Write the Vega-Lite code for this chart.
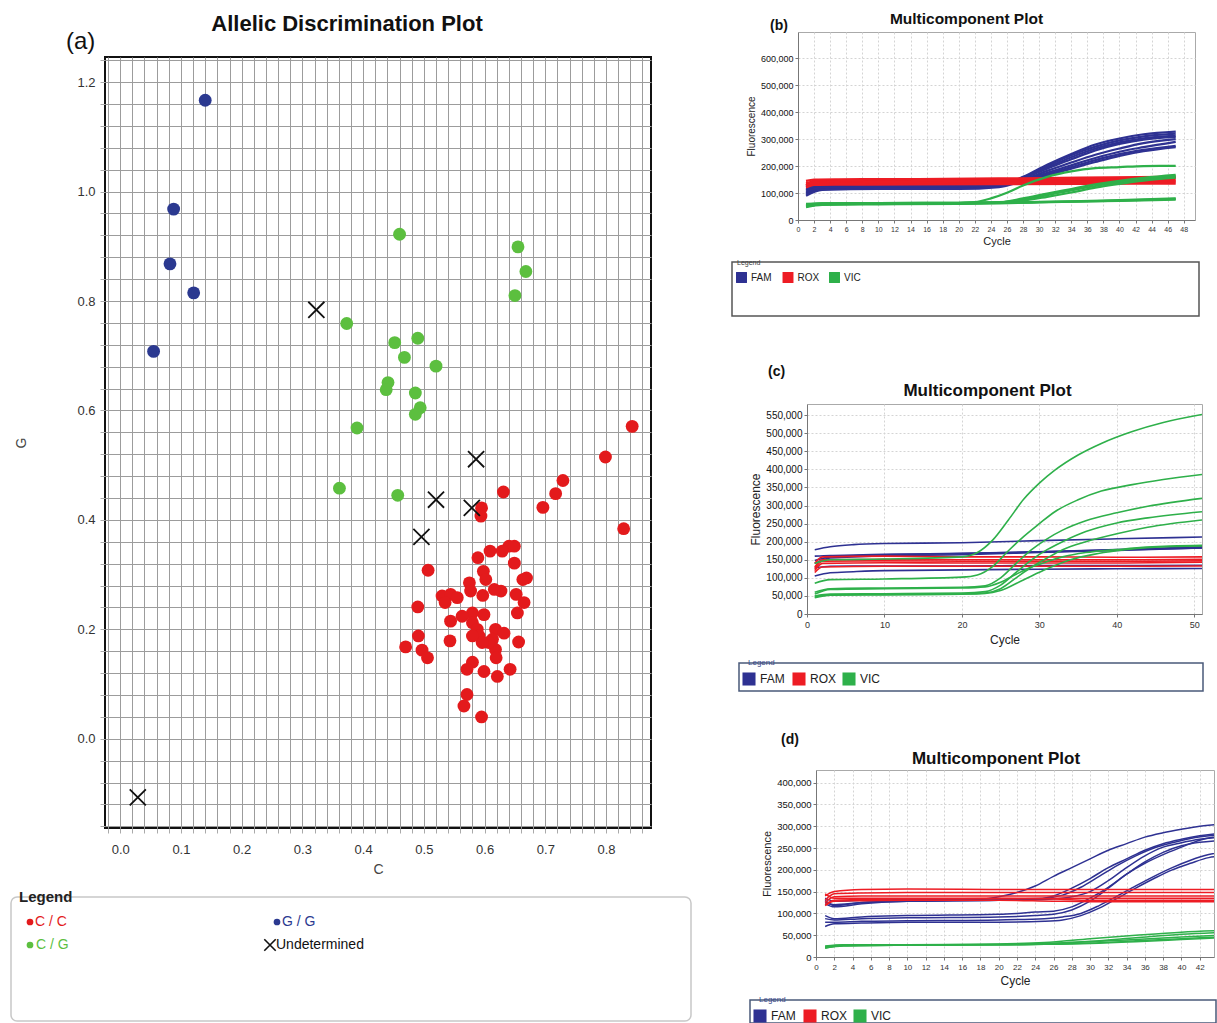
{
"$schema": "https://vega.github.io/schema/vega-lite/v6.json",
"background": "white",
"padding": {"left": 10, "top": 4, "right": 0, "bottom": 0},
"config": {"view": {"stroke": null}, "font": "Liberation Sans", "axis": {"labelFont": "Liberation Sans", "titleFont": "Liberation Sans"}},
"resolve": {"scale": {"color": "independent"}},
"datasets": {
"genotypes": [
{"C":0.140,"G":1.167,"call":"G / G"},{"C":0.088,"G":0.968,"call":"G / G"},{"C":0.082,"G":0.868,"call":"G / G"},{"C":0.121,"G":0.815,"call":"G / G"},{"C":0.055,"G":0.708,"call":"G / G"},
{"C":0.460,"G":0.922,"call":"C / G"},{"C":0.655,"G":0.899,"call":"C / G"},{"C":0.668,"G":0.854,"call":"C / G"},{"C":0.650,"G":0.810,"call":"C / G"},{"C":0.373,"G":0.759,"call":"C / G"},{"C":0.452,"G":0.724,"call":"C / G"},{"C":0.490,"G":0.732,"call":"C / G"},{"C":0.468,"G":0.697,"call":"C / G"},{"C":0.520,"G":0.681,"call":"C / G"},{"C":0.441,"G":0.651,"call":"C / G"},{"C":0.438,"G":0.638,"call":"C / G"},{"C":0.486,"G":0.632,"call":"C / G"},{"C":0.494,"G":0.605,"call":"C / G"},{"C":0.486,"G":0.593,"call":"C / G"},{"C":0.390,"G":0.568,"call":"C / G"},{"C":0.361,"G":0.458,"call":"C / G"},{"C":0.457,"G":0.445,"call":"C / G"},
{"C":0.843,"G":0.571,"call":"C / C"},{"C":0.799,"G":0.515,"call":"C / C"},{"C":0.729,"G":0.472,"call":"C / C"},{"C":0.717,"G":0.448,"call":"C / C"},{"C":0.696,"G":0.423,"call":"C / C"},{"C":0.829,"G":0.384,"call":"C / C"},{"C":0.631,"G":0.451,"call":"C / C"},{"C":0.595,"G":0.422,"call":"C / C"},{"C":0.594,"G":0.407,"call":"C / C"},{"C":0.507,"G":0.308,"call":"C / C"},
{"C":0.640,"G":0.352,"call":"C / C"},{"C":0.649,"G":0.352,"call":"C / C"},{"C":0.629,"G":0.343,"call":"C / C"},{"C":0.609,"G":0.343,"call":"C / C"},{"C":0.589,"G":0.331,"call":"C / C"},{"C":0.649,"G":0.321,"call":"C / C"},{"C":0.598,"G":0.306,"call":"C / C"},{"C":0.602,"G":0.291,"call":"C / C"},{"C":0.669,"G":0.294,"call":"C / C"},{"C":0.663,"G":0.291,"call":"C / C"},
{"C":0.575,"G":0.285,"call":"C / C"},{"C":0.577,"G":0.270,"call":"C / C"},{"C":0.530,"G":0.261,"call":"C / C"},{"C":0.544,"G":0.264,"call":"C / C"},{"C":0.555,"G":0.258,"call":"C / C"},{"C":0.535,"G":0.249,"call":"C / C"},{"C":0.627,"G":0.270,"call":"C / C"},{"C":0.616,"G":0.273,"call":"C / C"},{"C":0.597,"G":0.262,"call":"C / C"},{"C":0.652,"G":0.264,"call":"C / C"},
{"C":0.665,"G":0.249,"call":"C / C"},{"C":0.490,"G":0.241,"call":"C / C"},{"C":0.654,"G":0.230,"call":"C / C"},{"C":0.599,"G":0.227,"call":"C / C"},{"C":0.580,"G":0.230,"call":"C / C"},{"C":0.563,"G":0.224,"call":"C / C"},{"C":0.544,"G":0.215,"call":"C / C"},{"C":0.580,"G":0.212,"call":"C / C"},{"C":0.588,"G":0.200,"call":"C / C"},{"C":0.591,"G":0.188,"call":"C / C"},
{"C":0.618,"G":0.200,"call":"C / C"},{"C":0.632,"G":0.193,"call":"C / C"},{"C":0.613,"G":0.182,"call":"C / C"},{"C":0.491,"G":0.188,"call":"C / C"},{"C":0.543,"G":0.179,"call":"C / C"},{"C":0.656,"G":0.177,"call":"C / C"},{"C":0.470,"G":0.168,"call":"C / C"},{"C":0.497,"G":0.162,"call":"C / C"},{"C":0.506,"G":0.148,"call":"C / C"},{"C":0.618,"G":0.163,"call":"C / C"},
{"C":0.619,"G":0.148,"call":"C / C"},{"C":0.580,"G":0.140,"call":"C / C"},{"C":0.571,"G":0.127,"call":"C / C"},{"C":0.599,"G":0.123,"call":"C / C"},{"C":0.621,"G":0.114,"call":"C / C"},{"C":0.642,"G":0.127,"call":"C / C"},{"C":0.571,"G":0.081,"call":"C / C"},{"C":0.566,"G":0.060,"call":"C / C"},{"C":0.595,"G":0.040,"call":"C / C"},{"C":0.607,"G":0.176,"call":"C / C"},
{"C":0.596,"G":0.176,"call":"C / C"},{"C":0.580,"G":0.188,"call":"C / C"},
{"C":0.323,"G":0.784,"call":"Undetermined"},{"C":0.586,"G":0.511,"call":"Undetermined"},{"C":0.520,"G":0.437,"call":"Undetermined"},{"C":0.579,"G":0.422,"call":"Undetermined"},{"C":0.496,"G":0.369,"call":"Undetermined"},{"C":0.029,"G":-0.107,"call":"Undetermined"}
],
"b": [
{"dye":"FAM","well":"F1","cycle":1,"fluor":100000},{"dye":"FAM","well":"F1","cycle":3,"fluor":118000},{"dye":"FAM","well":"F1","cycle":10,"fluor":120000},{"dye":"FAM","well":"F1","cycle":20,"fluor":122000},{"dye":"FAM","well":"F1","cycle":25,"fluor":128000},{"dye":"FAM","well":"F1","cycle":28,"fluor":160000},{"dye":"FAM","well":"F1","cycle":31,"fluor":205000},{"dye":"FAM","well":"F1","cycle":34,"fluor":245000},{"dye":"FAM","well":"F1","cycle":37,"fluor":280000},{"dye":"FAM","well":"F1","cycle":40,"fluor":302000},{"dye":"FAM","well":"F1","cycle":43,"fluor":318000},{"dye":"FAM","well":"F1","cycle":47,"fluor":328000},
{"dye":"FAM","well":"F2","cycle":1,"fluor":110000},{"dye":"FAM","well":"F2","cycle":3,"fluor":125000},{"dye":"FAM","well":"F2","cycle":10,"fluor":125000},{"dye":"FAM","well":"F2","cycle":20,"fluor":125000},{"dye":"FAM","well":"F2","cycle":25,"fluor":130000},{"dye":"FAM","well":"F2","cycle":28,"fluor":158000},{"dye":"FAM","well":"F2","cycle":31,"fluor":200000},{"dye":"FAM","well":"F2","cycle":34,"fluor":240000},{"dye":"FAM","well":"F2","cycle":37,"fluor":272000},{"dye":"FAM","well":"F2","cycle":40,"fluor":295000},{"dye":"FAM","well":"F2","cycle":43,"fluor":310000},{"dye":"FAM","well":"F2","cycle":47,"fluor":320000},
{"dye":"FAM","well":"F3","cycle":1,"fluor":95000},{"dye":"FAM","well":"F3","cycle":3,"fluor":115000},{"dye":"FAM","well":"F3","cycle":10,"fluor":118000},{"dye":"FAM","well":"F3","cycle":20,"fluor":118000},{"dye":"FAM","well":"F3","cycle":25,"fluor":125000},{"dye":"FAM","well":"F3","cycle":28,"fluor":155000},{"dye":"FAM","well":"F3","cycle":31,"fluor":195000},{"dye":"FAM","well":"F3","cycle":34,"fluor":233000},{"dye":"FAM","well":"F3","cycle":37,"fluor":265000},{"dye":"FAM","well":"F3","cycle":40,"fluor":288000},{"dye":"FAM","well":"F3","cycle":43,"fluor":303000},{"dye":"FAM","well":"F3","cycle":47,"fluor":313000},
{"dye":"FAM","well":"F4","cycle":1,"fluor":120000},{"dye":"FAM","well":"F4","cycle":3,"fluor":130000},{"dye":"FAM","well":"F4","cycle":10,"fluor":128000},{"dye":"FAM","well":"F4","cycle":20,"fluor":127000},{"dye":"FAM","well":"F4","cycle":25,"fluor":132000},{"dye":"FAM","well":"F4","cycle":28,"fluor":155000},{"dye":"FAM","well":"F4","cycle":31,"fluor":190000},{"dye":"FAM","well":"F4","cycle":34,"fluor":225000},{"dye":"FAM","well":"F4","cycle":37,"fluor":258000},{"dye":"FAM","well":"F4","cycle":40,"fluor":282000},{"dye":"FAM","well":"F4","cycle":43,"fluor":298000},{"dye":"FAM","well":"F4","cycle":47,"fluor":308000},
{"dye":"FAM","well":"F5","cycle":1,"fluor":105000},{"dye":"FAM","well":"F5","cycle":3,"fluor":122000},{"dye":"FAM","well":"F5","cycle":10,"fluor":122000},{"dye":"FAM","well":"F5","cycle":20,"fluor":120000},{"dye":"FAM","well":"F5","cycle":25,"fluor":126000},{"dye":"FAM","well":"F5","cycle":28,"fluor":150000},{"dye":"FAM","well":"F5","cycle":31,"fluor":182000},{"dye":"FAM","well":"F5","cycle":34,"fluor":213000},{"dye":"FAM","well":"F5","cycle":37,"fluor":242000},{"dye":"FAM","well":"F5","cycle":40,"fluor":265000},{"dye":"FAM","well":"F5","cycle":43,"fluor":285000},{"dye":"FAM","well":"F5","cycle":47,"fluor":300000},
{"dye":"FAM","well":"F6","cycle":1,"fluor":125000},{"dye":"FAM","well":"F6","cycle":3,"fluor":135000},{"dye":"FAM","well":"F6","cycle":10,"fluor":133000},{"dye":"FAM","well":"F6","cycle":20,"fluor":130000},{"dye":"FAM","well":"F6","cycle":25,"fluor":133000},{"dye":"FAM","well":"F6","cycle":28,"fluor":148000},{"dye":"FAM","well":"F6","cycle":31,"fluor":175000},{"dye":"FAM","well":"F6","cycle":34,"fluor":203000},{"dye":"FAM","well":"F6","cycle":37,"fluor":230000},{"dye":"FAM","well":"F6","cycle":40,"fluor":253000},{"dye":"FAM","well":"F6","cycle":43,"fluor":270000},{"dye":"FAM","well":"F6","cycle":47,"fluor":290000},
{"dye":"FAM","well":"F7","cycle":1,"fluor":90000},{"dye":"FAM","well":"F7","cycle":3,"fluor":112000},{"dye":"FAM","well":"F7","cycle":10,"fluor":115000},{"dye":"FAM","well":"F7","cycle":20,"fluor":115000},{"dye":"FAM","well":"F7","cycle":25,"fluor":122000},{"dye":"FAM","well":"F7","cycle":28,"fluor":145000},{"dye":"FAM","well":"F7","cycle":31,"fluor":170000},{"dye":"FAM","well":"F7","cycle":34,"fluor":196000},{"dye":"FAM","well":"F7","cycle":37,"fluor":222000},{"dye":"FAM","well":"F7","cycle":40,"fluor":244000},{"dye":"FAM","well":"F7","cycle":43,"fluor":260000},{"dye":"FAM","well":"F7","cycle":47,"fluor":275000},
{"dye":"FAM","well":"F8","cycle":1,"fluor":115000},{"dye":"FAM","well":"F8","cycle":3,"fluor":128000},{"dye":"FAM","well":"F8","cycle":10,"fluor":126000},{"dye":"FAM","well":"F8","cycle":20,"fluor":124000},{"dye":"FAM","well":"F8","cycle":25,"fluor":128000},{"dye":"FAM","well":"F8","cycle":28,"fluor":142000},{"dye":"FAM","well":"F8","cycle":31,"fluor":165000},{"dye":"FAM","well":"F8","cycle":34,"fluor":190000},{"dye":"FAM","well":"F8","cycle":37,"fluor":215000},{"dye":"FAM","well":"F8","cycle":40,"fluor":238000},{"dye":"FAM","well":"F8","cycle":43,"fluor":255000},{"dye":"FAM","well":"F8","cycle":47,"fluor":270000},
{"dye":"ROX","well":"R1","cycle":1,"fluor":128000},{"dye":"ROX","well":"R1","cycle":2,"fluor":145000},{"dye":"ROX","well":"R1","cycle":5,"fluor":147000},{"dye":"ROX","well":"R1","cycle":15,"fluor":148000},{"dye":"ROX","well":"R1","cycle":25,"fluor":150000},{"dye":"ROX","well":"R1","cycle":35,"fluor":152000},{"dye":"ROX","well":"R1","cycle":47,"fluor":156000},
{"dye":"ROX","well":"R2","cycle":1,"fluor":135000},{"dye":"ROX","well":"R2","cycle":2,"fluor":142000},{"dye":"ROX","well":"R2","cycle":5,"fluor":143000},{"dye":"ROX","well":"R2","cycle":15,"fluor":144000},{"dye":"ROX","well":"R2","cycle":25,"fluor":146000},{"dye":"ROX","well":"R2","cycle":35,"fluor":148000},{"dye":"ROX","well":"R2","cycle":47,"fluor":150000},
{"dye":"ROX","well":"R3","cycle":1,"fluor":140000},{"dye":"ROX","well":"R3","cycle":2,"fluor":138000},{"dye":"ROX","well":"R3","cycle":5,"fluor":139000},{"dye":"ROX","well":"R3","cycle":15,"fluor":140000},{"dye":"ROX","well":"R3","cycle":25,"fluor":141000},{"dye":"ROX","well":"R3","cycle":35,"fluor":143000},{"dye":"ROX","well":"R3","cycle":47,"fluor":145000},
{"dye":"ROX","well":"R4","cycle":1,"fluor":130000},{"dye":"ROX","well":"R4","cycle":2,"fluor":134000},{"dye":"ROX","well":"R4","cycle":5,"fluor":135000},{"dye":"ROX","well":"R4","cycle":15,"fluor":136000},{"dye":"ROX","well":"R4","cycle":25,"fluor":137000},{"dye":"ROX","well":"R4","cycle":35,"fluor":139000},{"dye":"ROX","well":"R4","cycle":47,"fluor":140000},
{"dye":"ROX","well":"R5","cycle":1,"fluor":120000},{"dye":"ROX","well":"R5","cycle":2,"fluor":130000},{"dye":"ROX","well":"R5","cycle":5,"fluor":131000},{"dye":"ROX","well":"R5","cycle":15,"fluor":132000},{"dye":"ROX","well":"R5","cycle":25,"fluor":133000},{"dye":"ROX","well":"R5","cycle":35,"fluor":134000},{"dye":"ROX","well":"R5","cycle":47,"fluor":135000},
{"dye":"ROX","well":"R6","cycle":1,"fluor":145000},{"dye":"ROX","well":"R6","cycle":2,"fluor":150000},{"dye":"ROX","well":"R6","cycle":5,"fluor":151000},{"dye":"ROX","well":"R6","cycle":15,"fluor":152000},{"dye":"ROX","well":"R6","cycle":25,"fluor":154000},{"dye":"ROX","well":"R6","cycle":35,"fluor":157000},{"dye":"ROX","well":"R6","cycle":47,"fluor":160000},
{"dye":"VIC","well":"V1","cycle":1,"fluor":50000},{"dye":"VIC","well":"V1","cycle":3,"fluor":58000},{"dye":"VIC","well":"V1","cycle":10,"fluor":60000},{"dye":"VIC","well":"V1","cycle":20,"fluor":63000},{"dye":"VIC","well":"V1","cycle":22,"fluor":66000},{"dye":"VIC","well":"V1","cycle":24,"fluor":80000},{"dye":"VIC","well":"V1","cycle":26,"fluor":101000},{"dye":"VIC","well":"V1","cycle":28,"fluor":128000},{"dye":"VIC","well":"V1","cycle":31,"fluor":160000},{"dye":"VIC","well":"V1","cycle":34,"fluor":180000},{"dye":"VIC","well":"V1","cycle":37,"fluor":192000},{"dye":"VIC","well":"V1","cycle":40,"fluor":196000},{"dye":"VIC","well":"V1","cycle":43,"fluor":200000},{"dye":"VIC","well":"V1","cycle":47,"fluor":201000},
{"dye":"VIC","well":"V2","cycle":1,"fluor":55000},{"dye":"VIC","well":"V2","cycle":3,"fluor":60000},{"dye":"VIC","well":"V2","cycle":10,"fluor":60000},{"dye":"VIC","well":"V2","cycle":20,"fluor":62000},{"dye":"VIC","well":"V2","cycle":25,"fluor":65000},{"dye":"VIC","well":"V2","cycle":28,"fluor":80000},{"dye":"VIC","well":"V2","cycle":31,"fluor":98000},{"dye":"VIC","well":"V2","cycle":34,"fluor":115000},{"dye":"VIC","well":"V2","cycle":37,"fluor":132000},{"dye":"VIC","well":"V2","cycle":40,"fluor":145000},{"dye":"VIC","well":"V2","cycle":43,"fluor":156000},{"dye":"VIC","well":"V2","cycle":47,"fluor":167000},
{"dye":"VIC","well":"V3","cycle":1,"fluor":52000},{"dye":"VIC","well":"V3","cycle":3,"fluor":58000},{"dye":"VIC","well":"V3","cycle":10,"fluor":60000},{"dye":"VIC","well":"V3","cycle":20,"fluor":61000},{"dye":"VIC","well":"V3","cycle":25,"fluor":64000},{"dye":"VIC","well":"V3","cycle":28,"fluor":76000},{"dye":"VIC","well":"V3","cycle":31,"fluor":92000},{"dye":"VIC","well":"V3","cycle":34,"fluor":110000},{"dye":"VIC","well":"V3","cycle":37,"fluor":126000},{"dye":"VIC","well":"V3","cycle":40,"fluor":140000},{"dye":"VIC","well":"V3","cycle":43,"fluor":152000},{"dye":"VIC","well":"V3","cycle":47,"fluor":162000},
{"dye":"VIC","well":"V4","cycle":1,"fluor":60000},{"dye":"VIC","well":"V4","cycle":3,"fluor":62000},{"dye":"VIC","well":"V4","cycle":10,"fluor":63000},{"dye":"VIC","well":"V4","cycle":20,"fluor":64000},{"dye":"VIC","well":"V4","cycle":25,"fluor":66000},{"dye":"VIC","well":"V4","cycle":28,"fluor":72000},{"dye":"VIC","well":"V4","cycle":31,"fluor":86000},{"dye":"VIC","well":"V4","cycle":34,"fluor":102000},{"dye":"VIC","well":"V4","cycle":37,"fluor":120000},{"dye":"VIC","well":"V4","cycle":40,"fluor":134000},{"dye":"VIC","well":"V4","cycle":43,"fluor":146000},{"dye":"VIC","well":"V4","cycle":47,"fluor":157000},
{"dye":"VIC","well":"V5","cycle":1,"fluor":48000},{"dye":"VIC","well":"V5","cycle":3,"fluor":56000},{"dye":"VIC","well":"V5","cycle":10,"fluor":58000},{"dye":"VIC","well":"V5","cycle":20,"fluor":60000},{"dye":"VIC","well":"V5","cycle":25,"fluor":62000},{"dye":"VIC","well":"V5","cycle":30,"fluor":65000},{"dye":"VIC","well":"V5","cycle":40,"fluor":72000},{"dye":"VIC","well":"V5","cycle":47,"fluor":78000},
{"dye":"VIC","well":"V6","cycle":1,"fluor":55000},{"dye":"VIC","well":"V6","cycle":3,"fluor":60000},{"dye":"VIC","well":"V6","cycle":10,"fluor":61000},{"dye":"VIC","well":"V6","cycle":20,"fluor":62000},{"dye":"VIC","well":"V6","cycle":25,"fluor":63000},{"dye":"VIC","well":"V6","cycle":30,"fluor":66000},{"dye":"VIC","well":"V6","cycle":40,"fluor":74000},{"dye":"VIC","well":"V6","cycle":47,"fluor":80000},
{"dye":"VIC","well":"V7","cycle":1,"fluor":58000},{"dye":"VIC","well":"V7","cycle":3,"fluor":62000},{"dye":"VIC","well":"V7","cycle":10,"fluor":63000},{"dye":"VIC","well":"V7","cycle":20,"fluor":64000},{"dye":"VIC","well":"V7","cycle":25,"fluor":65000},{"dye":"VIC","well":"V7","cycle":30,"fluor":67000},{"dye":"VIC","well":"V7","cycle":40,"fluor":71000},{"dye":"VIC","well":"V7","cycle":47,"fluor":75000}
],
"c": [
{"dye":"FAM","well":"F1","cycle":1,"fluor":178000},{"dye":"FAM","well":"F1","cycle":3,"fluor":186000},{"dye":"FAM","well":"F1","cycle":6,"fluor":192000},{"dye":"FAM","well":"F1","cycle":10,"fluor":195000},{"dye":"FAM","well":"F1","cycle":20,"fluor":197000},{"dye":"FAM","well":"F1","cycle":30,"fluor":203000},{"dye":"FAM","well":"F1","cycle":40,"fluor":208000},{"dye":"FAM","well":"F1","cycle":51,"fluor":213000},
{"dye":"FAM","well":"F2","cycle":1,"fluor":148000},{"dye":"FAM","well":"F2","cycle":3,"fluor":158000},{"dye":"FAM","well":"F2","cycle":6,"fluor":161000},{"dye":"FAM","well":"F2","cycle":10,"fluor":164000},{"dye":"FAM","well":"F2","cycle":20,"fluor":167000},{"dye":"FAM","well":"F2","cycle":30,"fluor":172000},{"dye":"FAM","well":"F2","cycle":40,"fluor":178000},{"dye":"FAM","well":"F2","cycle":51,"fluor":186000},
{"dye":"FAM","well":"F3","cycle":1,"fluor":140000},{"dye":"FAM","well":"F3","cycle":3,"fluor":155000},{"dye":"FAM","well":"F3","cycle":6,"fluor":158000},{"dye":"FAM","well":"F3","cycle":10,"fluor":161000},{"dye":"FAM","well":"F3","cycle":20,"fluor":164000},{"dye":"FAM","well":"F3","cycle":30,"fluor":170000},{"dye":"FAM","well":"F3","cycle":40,"fluor":176000},{"dye":"FAM","well":"F3","cycle":51,"fluor":183000},
{"dye":"FAM","well":"F4","cycle":1,"fluor":105000},{"dye":"FAM","well":"F4","cycle":3,"fluor":114000},{"dye":"FAM","well":"F4","cycle":6,"fluor":117000},{"dye":"FAM","well":"F4","cycle":10,"fluor":120000},{"dye":"FAM","well":"F4","cycle":20,"fluor":122000},{"dye":"FAM","well":"F4","cycle":30,"fluor":124000},{"dye":"FAM","well":"F4","cycle":40,"fluor":125000},{"dye":"FAM","well":"F4","cycle":51,"fluor":126000},
{"dye":"FAM","well":"F5","cycle":1,"fluor":128000},{"dye":"FAM","well":"F5","cycle":3,"fluor":132000},{"dye":"FAM","well":"F5","cycle":6,"fluor":133000},{"dye":"FAM","well":"F5","cycle":10,"fluor":133000},{"dye":"FAM","well":"F5","cycle":20,"fluor":133000},{"dye":"FAM","well":"F5","cycle":30,"fluor":134000},{"dye":"FAM","well":"F5","cycle":40,"fluor":134000},{"dye":"FAM","well":"F5","cycle":51,"fluor":135000},
{"dye":"FAM","well":"F6","cycle":1,"fluor":160000},{"dye":"FAM","well":"F6","cycle":3,"fluor":162000},{"dye":"FAM","well":"F6","cycle":6,"fluor":163000},{"dye":"FAM","well":"F6","cycle":10,"fluor":165000},{"dye":"FAM","well":"F6","cycle":20,"fluor":168000},{"dye":"FAM","well":"F6","cycle":30,"fluor":172000},{"dye":"FAM","well":"F6","cycle":40,"fluor":177000},{"dye":"FAM","well":"F6","cycle":51,"fluor":183000},
{"dye":"ROX","well":"R1","cycle":1,"fluor":140000},{"dye":"ROX","well":"R1","cycle":2,"fluor":158000},{"dye":"ROX","well":"R1","cycle":10,"fluor":160000},{"dye":"ROX","well":"R1","cycle":20,"fluor":158000},{"dye":"ROX","well":"R1","cycle":30,"fluor":158000},{"dye":"ROX","well":"R1","cycle":40,"fluor":157000},{"dye":"ROX","well":"R1","cycle":51,"fluor":158000},
{"dye":"ROX","well":"R2","cycle":1,"fluor":130000},{"dye":"ROX","well":"R2","cycle":2,"fluor":150000},{"dye":"ROX","well":"R2","cycle":10,"fluor":151000},{"dye":"ROX","well":"R2","cycle":20,"fluor":150000},{"dye":"ROX","well":"R2","cycle":30,"fluor":150000},{"dye":"ROX","well":"R2","cycle":40,"fluor":150000},{"dye":"ROX","well":"R2","cycle":51,"fluor":151000},
{"dye":"ROX","well":"R3","cycle":1,"fluor":120000},{"dye":"ROX","well":"R3","cycle":2,"fluor":140000},{"dye":"ROX","well":"R3","cycle":10,"fluor":142000},{"dye":"ROX","well":"R3","cycle":20,"fluor":141000},{"dye":"ROX","well":"R3","cycle":30,"fluor":141000},{"dye":"ROX","well":"R3","cycle":40,"fluor":141000},{"dye":"ROX","well":"R3","cycle":51,"fluor":143000},
{"dye":"ROX","well":"R4","cycle":1,"fluor":115000},{"dye":"ROX","well":"R4","cycle":2,"fluor":130000},{"dye":"ROX","well":"R4","cycle":10,"fluor":132000},{"dye":"ROX","well":"R4","cycle":20,"fluor":132000},{"dye":"ROX","well":"R4","cycle":30,"fluor":132000},{"dye":"ROX","well":"R4","cycle":40,"fluor":132000},{"dye":"ROX","well":"R4","cycle":51,"fluor":133000},
{"dye":"ROX","well":"R5","cycle":1,"fluor":125000},{"dye":"ROX","well":"R5","cycle":2,"fluor":146000},{"dye":"ROX","well":"R5","cycle":10,"fluor":147000},{"dye":"ROX","well":"R5","cycle":20,"fluor":146000},{"dye":"ROX","well":"R5","cycle":30,"fluor":146000},{"dye":"ROX","well":"R5","cycle":40,"fluor":146000},{"dye":"ROX","well":"R5","cycle":51,"fluor":147000},
{"dye":"VIC","well":"V1","cycle":1,"fluor":140000},{"dye":"VIC","well":"V1","cycle":3,"fluor":150000},{"dye":"VIC","well":"V1","cycle":10,"fluor":152000},{"dye":"VIC","well":"V1","cycle":20,"fluor":158000},{"dye":"VIC","well":"V1","cycle":22,"fluor":170000},{"dye":"VIC","well":"V1","cycle":24,"fluor":205000},{"dye":"VIC","well":"V1","cycle":26,"fluor":260000},{"dye":"VIC","well":"V1","cycle":28,"fluor":318000},{"dye":"VIC","well":"V1","cycle":30,"fluor":362000},{"dye":"VIC","well":"V1","cycle":32,"fluor":398000},{"dye":"VIC","well":"V1","cycle":35,"fluor":440000},{"dye":"VIC","well":"V1","cycle":38,"fluor":472000},{"dye":"VIC","well":"V1","cycle":42,"fluor":505000},{"dye":"VIC","well":"V1","cycle":46,"fluor":530000},{"dye":"VIC","well":"V1","cycle":51,"fluor":552000},
{"dye":"VIC","well":"V2","cycle":1,"fluor":85000},{"dye":"VIC","well":"V2","cycle":3,"fluor":95000},{"dye":"VIC","well":"V2","cycle":10,"fluor":97000},{"dye":"VIC","well":"V2","cycle":20,"fluor":102000},{"dye":"VIC","well":"V2","cycle":22,"fluor":108000},{"dye":"VIC","well":"V2","cycle":24,"fluor":132000},{"dye":"VIC","well":"V2","cycle":26,"fluor":175000},{"dye":"VIC","well":"V2","cycle":28,"fluor":215000},{"dye":"VIC","well":"V2","cycle":30,"fluor":250000},{"dye":"VIC","well":"V2","cycle":32,"fluor":283000},{"dye":"VIC","well":"V2","cycle":35,"fluor":316000},{"dye":"VIC","well":"V2","cycle":38,"fluor":340000},{"dye":"VIC","well":"V2","cycle":42,"fluor":358000},{"dye":"VIC","well":"V2","cycle":46,"fluor":372000},{"dye":"VIC","well":"V2","cycle":51,"fluor":386000},
{"dye":"VIC","well":"V3","cycle":1,"fluor":60000},{"dye":"VIC","well":"V3","cycle":3,"fluor":70000},{"dye":"VIC","well":"V3","cycle":10,"fluor":72000},{"dye":"VIC","well":"V3","cycle":20,"fluor":74000},{"dye":"VIC","well":"V3","cycle":23,"fluor":78000},{"dye":"VIC","well":"V3","cycle":25,"fluor":100000},{"dye":"VIC","well":"V3","cycle":27,"fluor":140000},{"dye":"VIC","well":"V3","cycle":29,"fluor":178000},{"dye":"VIC","well":"V3","cycle":31,"fluor":208000},{"dye":"VIC","well":"V3","cycle":33,"fluor":232000},{"dye":"VIC","well":"V3","cycle":36,"fluor":258000},{"dye":"VIC","well":"V3","cycle":40,"fluor":280000},{"dye":"VIC","well":"V3","cycle":44,"fluor":298000},{"dye":"VIC","well":"V3","cycle":51,"fluor":320000},
{"dye":"VIC","well":"V4","cycle":1,"fluor":50000},{"dye":"VIC","well":"V4","cycle":3,"fluor":55000},{"dye":"VIC","well":"V4","cycle":10,"fluor":56000},{"dye":"VIC","well":"V4","cycle":20,"fluor":58000},{"dye":"VIC","well":"V4","cycle":23,"fluor":62000},{"dye":"VIC","well":"V4","cycle":25,"fluor":80000},{"dye":"VIC","well":"V4","cycle":27,"fluor":115000},{"dye":"VIC","well":"V4","cycle":29,"fluor":150000},{"dye":"VIC","well":"V4","cycle":31,"fluor":178000},{"dye":"VIC","well":"V4","cycle":33,"fluor":200000},{"dye":"VIC","well":"V4","cycle":36,"fluor":228000},{"dye":"VIC","well":"V4","cycle":40,"fluor":252000},{"dye":"VIC","well":"V4","cycle":44,"fluor":266000},{"dye":"VIC","well":"V4","cycle":51,"fluor":283000},
{"dye":"VIC","well":"V5","cycle":1,"fluor":48000},{"dye":"VIC","well":"V5","cycle":3,"fluor":53000},{"dye":"VIC","well":"V5","cycle":10,"fluor":54000},{"dye":"VIC","well":"V5","cycle":20,"fluor":55000},{"dye":"VIC","well":"V5","cycle":23,"fluor":58000},{"dye":"VIC","well":"V5","cycle":25,"fluor":70000},{"dye":"VIC","well":"V5","cycle":27,"fluor":100000},{"dye":"VIC","well":"V5","cycle":29,"fluor":130000},{"dye":"VIC","well":"V5","cycle":31,"fluor":155000},{"dye":"VIC","well":"V5","cycle":33,"fluor":178000},{"dye":"VIC","well":"V5","cycle":36,"fluor":200000},{"dye":"VIC","well":"V5","cycle":40,"fluor":222000},{"dye":"VIC","well":"V5","cycle":44,"fluor":240000},{"dye":"VIC","well":"V5","cycle":51,"fluor":260000},
{"dye":"VIC","well":"V6","cycle":1,"fluor":55000},{"dye":"VIC","well":"V6","cycle":3,"fluor":68000},{"dye":"VIC","well":"V6","cycle":10,"fluor":70000},{"dye":"VIC","well":"V6","cycle":20,"fluor":72000},{"dye":"VIC","well":"V6","cycle":23,"fluor":75000},{"dye":"VIC","well":"V6","cycle":25,"fluor":88000},{"dye":"VIC","well":"V6","cycle":27,"fluor":110000},{"dye":"VIC","well":"V6","cycle":29,"fluor":130000},{"dye":"VIC","well":"V6","cycle":31,"fluor":145000},{"dye":"VIC","well":"V6","cycle":33,"fluor":158000},{"dye":"VIC","well":"V6","cycle":36,"fluor":170000},{"dye":"VIC","well":"V6","cycle":40,"fluor":178000},{"dye":"VIC","well":"V6","cycle":44,"fluor":185000},{"dye":"VIC","well":"V6","cycle":51,"fluor":190000},
{"dye":"VIC","well":"V7","cycle":1,"fluor":45000},{"dye":"VIC","well":"V7","cycle":3,"fluor":52000},{"dye":"VIC","well":"V7","cycle":10,"fluor":53000},{"dye":"VIC","well":"V7","cycle":20,"fluor":55000},{"dye":"VIC","well":"V7","cycle":23,"fluor":57000},{"dye":"VIC","well":"V7","cycle":25,"fluor":65000},{"dye":"VIC","well":"V7","cycle":28,"fluor":95000},{"dye":"VIC","well":"V7","cycle":31,"fluor":125000},{"dye":"VIC","well":"V7","cycle":34,"fluor":150000},{"dye":"VIC","well":"V7","cycle":37,"fluor":165000},{"dye":"VIC","well":"V7","cycle":40,"fluor":175000},{"dye":"VIC","well":"V7","cycle":45,"fluor":185000},{"dye":"VIC","well":"V7","cycle":51,"fluor":188000}
],
"d": [
{"dye":"FAM","well":"F1","cycle":1,"fluor":125000},{"dye":"FAM","well":"F1","cycle":2,"fluor":120000},{"dye":"FAM","well":"F1","cycle":5,"fluor":125000},{"dye":"FAM","well":"F1","cycle":10,"fluor":128000},{"dye":"FAM","well":"F1","cycle":15,"fluor":130000},{"dye":"FAM","well":"F1","cycle":18,"fluor":132000},{"dye":"FAM","well":"F1","cycle":20,"fluor":138000},{"dye":"FAM","well":"F1","cycle":22,"fluor":148000},{"dye":"FAM","well":"F1","cycle":24,"fluor":163000},{"dye":"FAM","well":"F1","cycle":26,"fluor":185000},{"dye":"FAM","well":"F1","cycle":28,"fluor":205000},{"dye":"FAM","well":"F1","cycle":30,"fluor":225000},{"dye":"FAM","well":"F1","cycle":32,"fluor":245000},{"dye":"FAM","well":"F1","cycle":34,"fluor":260000},{"dye":"FAM","well":"F1","cycle":36,"fluor":275000},{"dye":"FAM","well":"F1","cycle":38,"fluor":285000},{"dye":"FAM","well":"F1","cycle":40,"fluor":293000},{"dye":"FAM","well":"F1","cycle":42,"fluor":300000},{"dye":"FAM","well":"F1","cycle":45,"fluor":305000},
{"dye":"FAM","well":"F2","cycle":1,"fluor":130000},{"dye":"FAM","well":"F2","cycle":2,"fluor":118000},{"dye":"FAM","well":"F2","cycle":5,"fluor":125000},{"dye":"FAM","well":"F2","cycle":10,"fluor":128000},{"dye":"FAM","well":"F2","cycle":20,"fluor":130000},{"dye":"FAM","well":"F2","cycle":24,"fluor":132000},{"dye":"FAM","well":"F2","cycle":26,"fluor":140000},{"dye":"FAM","well":"F2","cycle":28,"fluor":158000},{"dye":"FAM","well":"F2","cycle":30,"fluor":180000},{"dye":"FAM","well":"F2","cycle":32,"fluor":205000},{"dye":"FAM","well":"F2","cycle":34,"fluor":225000},{"dye":"FAM","well":"F2","cycle":36,"fluor":245000},{"dye":"FAM","well":"F2","cycle":38,"fluor":260000},{"dye":"FAM","well":"F2","cycle":40,"fluor":270000},{"dye":"FAM","well":"F2","cycle":42,"fluor":278000},{"dye":"FAM","well":"F2","cycle":45,"fluor":285000},
{"dye":"FAM","well":"F3","cycle":1,"fluor":135000},{"dye":"FAM","well":"F3","cycle":2,"fluor":128000},{"dye":"FAM","well":"F3","cycle":5,"fluor":130000},{"dye":"FAM","well":"F3","cycle":10,"fluor":132000},{"dye":"FAM","well":"F3","cycle":20,"fluor":133000},{"dye":"FAM","well":"F3","cycle":25,"fluor":135000},{"dye":"FAM","well":"F3","cycle":27,"fluor":142000},{"dye":"FAM","well":"F3","cycle":29,"fluor":160000},{"dye":"FAM","well":"F3","cycle":31,"fluor":185000},{"dye":"FAM","well":"F3","cycle":33,"fluor":210000},{"dye":"FAM","well":"F3","cycle":35,"fluor":232000},{"dye":"FAM","well":"F3","cycle":37,"fluor":250000},{"dye":"FAM","well":"F3","cycle":39,"fluor":262000},{"dye":"FAM","well":"F3","cycle":41,"fluor":272000},{"dye":"FAM","well":"F3","cycle":45,"fluor":282000},
{"dye":"FAM","well":"F4","cycle":1,"fluor":122000},{"dye":"FAM","well":"F4","cycle":2,"fluor":115000},{"dye":"FAM","well":"F4","cycle":5,"fluor":122000},{"dye":"FAM","well":"F4","cycle":10,"fluor":128000},{"dye":"FAM","well":"F4","cycle":20,"fluor":130000},{"dye":"FAM","well":"F4","cycle":25,"fluor":132000},{"dye":"FAM","well":"F4","cycle":28,"fluor":138000},{"dye":"FAM","well":"F4","cycle":30,"fluor":150000},{"dye":"FAM","well":"F4","cycle":32,"fluor":175000},{"dye":"FAM","well":"F4","cycle":34,"fluor":205000},{"dye":"FAM","well":"F4","cycle":36,"fluor":232000},{"dye":"FAM","well":"F4","cycle":38,"fluor":252000},{"dye":"FAM","well":"F4","cycle":40,"fluor":262000},{"dye":"FAM","well":"F4","cycle":42,"fluor":270000},{"dye":"FAM","well":"F4","cycle":45,"fluor":276000},
{"dye":"FAM","well":"F5","cycle":1,"fluor":95000},{"dye":"FAM","well":"F5","cycle":2,"fluor":88000},{"dye":"FAM","well":"F5","cycle":5,"fluor":92000},{"dye":"FAM","well":"F5","cycle":10,"fluor":95000},{"dye":"FAM","well":"F5","cycle":20,"fluor":98000},{"dye":"FAM","well":"F5","cycle":22,"fluor":100000},{"dye":"FAM","well":"F5","cycle":24,"fluor":103000},{"dye":"FAM","well":"F5","cycle":26,"fluor":105000},{"dye":"FAM","well":"F5","cycle":28,"fluor":115000},{"dye":"FAM","well":"F5","cycle":30,"fluor":135000},{"dye":"FAM","well":"F5","cycle":32,"fluor":160000},{"dye":"FAM","well":"F5","cycle":34,"fluor":190000},{"dye":"FAM","well":"F5","cycle":36,"fluor":218000},{"dye":"FAM","well":"F5","cycle":38,"fluor":240000},{"dye":"FAM","well":"F5","cycle":40,"fluor":255000},{"dye":"FAM","well":"F5","cycle":42,"fluor":263000},{"dye":"FAM","well":"F5","cycle":45,"fluor":268000},
{"dye":"FAM","well":"F6","cycle":1,"fluor":88000},{"dye":"FAM","well":"F6","cycle":2,"fluor":85000},{"dye":"FAM","well":"F6","cycle":5,"fluor":88000},{"dye":"FAM","well":"F6","cycle":10,"fluor":90000},{"dye":"FAM","well":"F6","cycle":20,"fluor":92000},{"dye":"FAM","well":"F6","cycle":24,"fluor":95000},{"dye":"FAM","well":"F6","cycle":26,"fluor":98000},{"dye":"FAM","well":"F6","cycle":28,"fluor":108000},{"dye":"FAM","well":"F6","cycle":30,"fluor":128000},{"dye":"FAM","well":"F6","cycle":32,"fluor":158000},{"dye":"FAM","well":"F6","cycle":34,"fluor":190000},{"dye":"FAM","well":"F6","cycle":36,"fluor":215000},{"dye":"FAM","well":"F6","cycle":38,"fluor":235000},{"dye":"FAM","well":"F6","cycle":40,"fluor":252000},{"dye":"FAM","well":"F6","cycle":42,"fluor":268000},{"dye":"FAM","well":"F6","cycle":45,"fluor":280000},
{"dye":"FAM","well":"F7","cycle":1,"fluor":80000},{"dye":"FAM","well":"F7","cycle":2,"fluor":80000},{"dye":"FAM","well":"F7","cycle":5,"fluor":82000},{"dye":"FAM","well":"F7","cycle":10,"fluor":83000},{"dye":"FAM","well":"F7","cycle":20,"fluor":85000},{"dye":"FAM","well":"F7","cycle":25,"fluor":88000},{"dye":"FAM","well":"F7","cycle":27,"fluor":92000},{"dye":"FAM","well":"F7","cycle":29,"fluor":100000},{"dye":"FAM","well":"F7","cycle":31,"fluor":118000},{"dye":"FAM","well":"F7","cycle":33,"fluor":140000},{"dye":"FAM","well":"F7","cycle":35,"fluor":163000},{"dye":"FAM","well":"F7","cycle":37,"fluor":185000},{"dye":"FAM","well":"F7","cycle":39,"fluor":205000},{"dye":"FAM","well":"F7","cycle":41,"fluor":222000},{"dye":"FAM","well":"F7","cycle":43,"fluor":235000},{"dye":"FAM","well":"F7","cycle":45,"fluor":242000},
{"dye":"FAM","well":"F8","cycle":1,"fluor":70000},{"dye":"FAM","well":"F8","cycle":2,"fluor":76000},{"dye":"FAM","well":"F8","cycle":5,"fluor":78000},{"dye":"FAM","well":"F8","cycle":10,"fluor":80000},{"dye":"FAM","well":"F8","cycle":20,"fluor":80000},{"dye":"FAM","well":"F8","cycle":25,"fluor":82000},{"dye":"FAM","well":"F8","cycle":27,"fluor":85000},{"dye":"FAM","well":"F8","cycle":29,"fluor":95000},{"dye":"FAM","well":"F8","cycle":31,"fluor":112000},{"dye":"FAM","well":"F8","cycle":33,"fluor":135000},{"dye":"FAM","well":"F8","cycle":35,"fluor":158000},{"dye":"FAM","well":"F8","cycle":37,"fluor":180000},{"dye":"FAM","well":"F8","cycle":39,"fluor":200000},{"dye":"FAM","well":"F8","cycle":41,"fluor":215000},{"dye":"FAM","well":"F8","cycle":43,"fluor":228000},{"dye":"FAM","well":"F8","cycle":45,"fluor":232000},
{"dye":"ROX","well":"R1","cycle":1,"fluor":140000},{"dye":"ROX","well":"R1","cycle":2,"fluor":150000},{"dye":"ROX","well":"R1","cycle":5,"fluor":155000},{"dye":"ROX","well":"R1","cycle":10,"fluor":156000},{"dye":"ROX","well":"R1","cycle":20,"fluor":155000},{"dye":"ROX","well":"R1","cycle":26,"fluor":155000},{"dye":"ROX","well":"R1","cycle":30,"fluor":155000},{"dye":"ROX","well":"R1","cycle":45,"fluor":155000},
{"dye":"ROX","well":"R2","cycle":1,"fluor":130000},{"dye":"ROX","well":"R2","cycle":2,"fluor":145000},{"dye":"ROX","well":"R2","cycle":5,"fluor":147000},{"dye":"ROX","well":"R2","cycle":10,"fluor":148000},{"dye":"ROX","well":"R2","cycle":20,"fluor":148000},{"dye":"ROX","well":"R2","cycle":26,"fluor":148000},{"dye":"ROX","well":"R2","cycle":30,"fluor":148000},{"dye":"ROX","well":"R2","cycle":45,"fluor":148000},
{"dye":"ROX","well":"R3","cycle":1,"fluor":125000},{"dye":"ROX","well":"R3","cycle":2,"fluor":138000},{"dye":"ROX","well":"R3","cycle":5,"fluor":140000},{"dye":"ROX","well":"R3","cycle":10,"fluor":140000},{"dye":"ROX","well":"R3","cycle":20,"fluor":140000},{"dye":"ROX","well":"R3","cycle":26,"fluor":140000},{"dye":"ROX","well":"R3","cycle":30,"fluor":140000},{"dye":"ROX","well":"R3","cycle":45,"fluor":140000},
{"dye":"ROX","well":"R4","cycle":1,"fluor":120000},{"dye":"ROX","well":"R4","cycle":2,"fluor":130000},{"dye":"ROX","well":"R4","cycle":5,"fluor":132000},{"dye":"ROX","well":"R4","cycle":10,"fluor":133000},{"dye":"ROX","well":"R4","cycle":20,"fluor":134000},{"dye":"ROX","well":"R4","cycle":26,"fluor":133000},{"dye":"ROX","well":"R4","cycle":30,"fluor":130000},{"dye":"ROX","well":"R4","cycle":45,"fluor":130000},
{"dye":"ROX","well":"R5","cycle":1,"fluor":118000},{"dye":"ROX","well":"R5","cycle":2,"fluor":128000},{"dye":"ROX","well":"R5","cycle":5,"fluor":129000},{"dye":"ROX","well":"R5","cycle":10,"fluor":130000},{"dye":"ROX","well":"R5","cycle":20,"fluor":130000},{"dye":"ROX","well":"R5","cycle":26,"fluor":128000},{"dye":"ROX","well":"R5","cycle":30,"fluor":127000},{"dye":"ROX","well":"R5","cycle":45,"fluor":127000},
{"dye":"ROX","well":"R6","cycle":1,"fluor":145000},{"dye":"ROX","well":"R6","cycle":2,"fluor":135000},{"dye":"ROX","well":"R6","cycle":5,"fluor":135000},{"dye":"ROX","well":"R6","cycle":10,"fluor":135000},{"dye":"ROX","well":"R6","cycle":20,"fluor":135000},{"dye":"ROX","well":"R6","cycle":26,"fluor":135000},{"dye":"ROX","well":"R6","cycle":30,"fluor":135000},{"dye":"ROX","well":"R6","cycle":45,"fluor":135000},
{"dye":"VIC","well":"V1","cycle":1,"fluor":20000},{"dye":"VIC","well":"V1","cycle":3,"fluor":27000},{"dye":"VIC","well":"V1","cycle":10,"fluor":28000},{"dye":"VIC","well":"V1","cycle":20,"fluor":30000},{"dye":"VIC","well":"V1","cycle":25,"fluor":33000},{"dye":"VIC","well":"V1","cycle":30,"fluor":42000},{"dye":"VIC","well":"V1","cycle":35,"fluor":50000},{"dye":"VIC","well":"V1","cycle":40,"fluor":57000},{"dye":"VIC","well":"V1","cycle":45,"fluor":61000},
{"dye":"VIC","well":"V2","cycle":1,"fluor":22000},{"dye":"VIC","well":"V2","cycle":3,"fluor":26000},{"dye":"VIC","well":"V2","cycle":10,"fluor":27000},{"dye":"VIC","well":"V2","cycle":20,"fluor":28000},{"dye":"VIC","well":"V2","cycle":25,"fluor":30000},{"dye":"VIC","well":"V2","cycle":30,"fluor":36000},{"dye":"VIC","well":"V2","cycle":35,"fluor":44000},{"dye":"VIC","well":"V2","cycle":40,"fluor":52000},{"dye":"VIC","well":"V2","cycle":45,"fluor":57000},
{"dye":"VIC","well":"V3","cycle":1,"fluor":25000},{"dye":"VIC","well":"V3","cycle":3,"fluor":28000},{"dye":"VIC","well":"V3","cycle":10,"fluor":28000},{"dye":"VIC","well":"V3","cycle":20,"fluor":29000},{"dye":"VIC","well":"V3","cycle":25,"fluor":31000},{"dye":"VIC","well":"V3","cycle":30,"fluor":35000},{"dye":"VIC","well":"V3","cycle":35,"fluor":40000},{"dye":"VIC","well":"V3","cycle":40,"fluor":46000},{"dye":"VIC","well":"V3","cycle":45,"fluor":51000},
{"dye":"VIC","well":"V4","cycle":1,"fluor":24000},{"dye":"VIC","well":"V4","cycle":3,"fluor":27000},{"dye":"VIC","well":"V4","cycle":10,"fluor":28000},{"dye":"VIC","well":"V4","cycle":20,"fluor":28000},{"dye":"VIC","well":"V4","cycle":25,"fluor":29000},{"dye":"VIC","well":"V4","cycle":30,"fluor":32000},{"dye":"VIC","well":"V4","cycle":35,"fluor":37000},{"dye":"VIC","well":"V4","cycle":40,"fluor":42000},{"dye":"VIC","well":"V4","cycle":45,"fluor":47000},
{"dye":"VIC","well":"V5","cycle":1,"fluor":21000},{"dye":"VIC","well":"V5","cycle":3,"fluor":25000},{"dye":"VIC","well":"V5","cycle":10,"fluor":27000},{"dye":"VIC","well":"V5","cycle":20,"fluor":28000},{"dye":"VIC","well":"V5","cycle":25,"fluor":29000},{"dye":"VIC","well":"V5","cycle":30,"fluor":31000},{"dye":"VIC","well":"V5","cycle":35,"fluor":35000},{"dye":"VIC","well":"V5","cycle":40,"fluor":40000},{"dye":"VIC","well":"V5","cycle":45,"fluor":45000}
]
},
"hconcat": [
{
"spacing": 7,
"vconcat": [
{"width": 1, "height": 1, "data": {"values": []}, "mark": "point"},
{
"spacing": 12,
"vconcat": [
{
"spacing": 0,
"title": {"text": "(a)", "anchor": "start", "fontSize": 24, "fontWeight": "normal", "color": "#111", "offset": -42, "dx": 55},
"hconcat": [
{"width": 2, "height": 1, "data": {"values": []}, "mark": "point"},
{
"width": 546, "height": 771,
"data": {"name": "genotypes"},
"view": {"stroke": "#111", "strokeWidth": 2},
"title": {"text": "Allelic Discrimination Plot", "fontSize": 22, "fontWeight": "bold", "color": "#111", "anchor": "middle", "frame": "group", "dx": -31, "offset": 18},
"encoding": {
"x": {"field": "C", "type": "quantitative", "scale": {"domain": [-0.025, 0.874], "nice": false, "zero": false},
"axis": {"title": "C", "values": [-0.02,0,0.02,0.04,0.06,0.08,0.1,0.12,0.14,0.16,0.18,0.2,0.22,0.24,0.26,0.28,0.3,0.32,0.34,0.36,0.38,0.4,0.42,0.44,0.46,0.48,0.5,0.52,0.54,0.56,0.58,0.6,0.62,0.64,0.66,0.68,0.7,0.72,0.74,0.76,0.78,0.8,0.82,0.84,0.86],
"labelExpr": "(datum.value >= -0.001 && datum.value <= 0.801 && abs(datum.value*10 - round(datum.value*10)) < 0.01) ? format(datum.value, '.1f') : ''",
"labelOverlap": false, "labelFlush": false, "grid": true, "gridColor": "#9c9c9c", "gridWidth": 1, "gridOpacity": 1, "tickSize": 5, "tickColor": "#aaa", "domain": false,
"labelFontSize": 13, "labelColor": "#333", "labelPadding": 10,
"titleFontSize": 14, "titleFontWeight": "normal", "titleColor": "#444", "titlePadding": 6}},
"y": {"field": "G", "type": "quantitative", "scale": {"domain": [-0.163, 1.246], "nice": false, "zero": false},
"axis": {"title": "G", "values": [-0.16,-0.12,-0.08,-0.04,0,0.04,0.08,0.12,0.16,0.2,0.24,0.28,0.32,0.36,0.4,0.44,0.48,0.52,0.56,0.6,0.64,0.68,0.72,0.76,0.8,0.84,0.88,0.92,0.96,1,1.04,1.08,1.12,1.16,1.2,1.24],
"labelExpr": "(datum.value >= -0.001 && datum.value <= 1.201 && abs(datum.value*5 - round(datum.value*5)) < 0.01) ? format(datum.value, '.1f') : ''",
"labelOverlap": false, "labelFlush": false, "grid": true, "gridColor": "#9c9c9c", "gridWidth": 1, "gridOpacity": 1, "tickSize": 5, "tickColor": "#aaa", "domain": false,
"labelFontSize": 13, "labelColor": "#333", "labelPadding": 5,
"titleFontSize": 14, "titleFontWeight": "normal", "titleColor": "#444", "titlePadding": 48}},
"color": {"field": "call", "type": "nominal", "scale": {"domain": ["C / C", "C / G", "G / G", "Undetermined"], "range": ["#e31a1c", "#5cbf3f", "#2b3990", "#111111"]}, "legend": null}
},
"layer": [
{"transform": [{"filter": "datum.call != 'Undetermined'"}], "mark": {"type": "circle", "size": 165, "opacity": 1}},
{"transform": [{"filter": "datum.call == 'Undetermined'"}], "mark": {"type": "point", "shape": "M-1,-1L1,1M1,-1L-1,1", "size": 260, "filled": false, "strokeWidth": 1.8, "opacity": 1}}
]
}
]
},
{
"width": 680, "height": 124,
"data": {"name": "genotypes"},
"transform": [{"aggregate": [{"op": "count", "as": "n"}], "groupby": ["call"]}],
"view": {"stroke": "#c8c8c8", "strokeWidth": 1.5, "cornerRadius": 6},
"title": {"text": "Legend", "anchor": "start", "fontSize": 15, "fontWeight": "bold", "color": "#222", "offset": -8, "dx": 8},
"layer": [
{"transform": [{"filter": "datum.call == 'C / C' || datum.call == 'G / G'"}],
"encoding": {
"x": {"field": "call", "type": "nominal", "scale": {"type": "point", "padding": 0, "domain": ["C / C", "G / G"], "range": [19, 266]}, "axis": null},
"y": {"field": "call", "type": "nominal", "scale": {"type": "point", "padding": 0, "domain": ["C / C", "G / G"], "range": [25, 25]}, "axis": null},
"color": {"field": "call", "type": "nominal", "scale": {"domain": ["C / C", "C / G", "G / G", "Undetermined"], "range": ["#e31a1c", "#5cbf3f", "#2b3990", "#111111"]}, "legend": null}},
"layer": [
{"mark": {"type": "circle", "size": 45, "opacity": 1}},
{"mark": {"type": "text", "align": "left", "dx": 5, "fontSize": 14}, "encoding": {"text": {"field": "call"}}}
]},
{"transform": [{"filter": "datum.call == 'C / G' || datum.call == 'Undetermined'"}],
"encoding": {
"x": {"field": "call", "type": "nominal", "scale": {"type": "point", "padding": 0, "domain": ["C / G", "Undetermined"], "range": [19, 259]}, "axis": null},
"y": {"field": "call", "type": "nominal", "scale": {"type": "point", "padding": 0, "domain": ["C / G", "Undetermined"], "range": [48, 48]}, "axis": null},
"color": {"field": "call", "type": "nominal", "scale": {"domain": ["C / C", "C / G", "G / G", "Undetermined"], "range": ["#e31a1c", "#5cbf3f", "#2b3990", "#111111"]}, "legend": null}},
"layer": [
{"transform": [{"filter": "datum.call == 'C / G'"}], "mark": {"type": "circle", "size": 45, "opacity": 1}},
{"transform": [{"filter": "datum.call == 'Undetermined'"}], "mark": {"type": "point", "shape": "M-1,-1L1,1M1,-1L-1,1", "size": 130, "filled": false, "strokeWidth": 1.6, "opacity": 1}},
{"mark": {"type": "text", "align": "left", "dx": 6, "fontSize": 14}, "encoding": {"text": {"field": "call"}}}
]}
],
"resolve": {"scale": {"x": "independent", "y": "independent"}}
}
]
}
]
},
{
"spacing": 6,
"vconcat": [
{"width": 1, "height": 1, "data": {"values": []}, "mark": "point"},
{
"spacing": 47,
"vconcat": [
{
"spacing": 11,
"vconcat": [
{
"spacing": 0,
"title": {"text": "(b)", "anchor": "start", "fontSize": 14, "fontWeight": "bold", "color": "#111", "offset": -22, "dx": 38},
"hconcat": [
{"width": 13, "height": 1, "data": {"values": []}, "mark": "point"},
{
"width": 397, "height": 188,
"data": {"name": "b"},
"view": {"stroke": "#aaa"},
"title": {"text": "Multicomponent Plot", "fontSize": 15.5, "fontWeight": "bold", "color": "#111", "anchor": "middle", "frame": "group", "dx": -30, "offset": 5},
"mark": {"type": "line", "strokeWidth": 2.2, "interpolate": "monotone", "clip": true},
"encoding": {
"x": {"field": "cycle", "type": "quantitative", "scale": {"domain": [0, 49.4], "nice": false},
"axis": {"title": "Cycle", "values": [0,2,4,6,8,10,12,14,16,18,20,22,24,26,28,30,32,34,36,38,40,42,44,46,48], "labelOverlap": false, "labelFlush": false, "grid": true, "gridColor": "#d4d4d4", "gridDash": [2, 2], "tickSize": 3, "tickColor": "#777", "domainColor": "#777", "labelFontSize": 7, "labelColor": "#333", "labelPadding": 2, "titleFontSize": 11, "titleFontWeight": "normal", "titleColor": "#222", "titlePadding": 3}},
"y": {"field": "fluor", "type": "quantitative", "scale": {"domain": [0, 697000], "nice": false},
"axis": {"title": "Fluorescence", "values": [0,100000,200000,300000,400000,500000,600000], "labelExpr": "format(datum.value, ',.0f')", "grid": true, "gridColor": "#d4d4d4", "gridDash": [2, 2], "tickSize": 3, "tickColor": "#777", "domainColor": "#777", "labelFontSize": 9, "labelColor": "#111", "labelPadding": 2, "titleFontSize": 10, "titleFontWeight": "normal", "titleColor": "#222", "titlePadding": 4}},
"color": {"field": "dye", "type": "nominal", "scale": {"domain": ["FAM", "ROX", "VIC"], "range": ["#2e3192", "#ed1c24", "#2eb04a"]}, "legend": null},
"detail": {"field": "well"}
}
}
]
},
{
"width": 467, "height": 54,
"data": {"name": "b"},
"transform": [{"aggregate": [{"op": "count", "as": "n"}], "groupby": ["dye"]}],
"view": {"stroke": "#555", "strokeWidth": 1.5},
"title": {"text": "Legend", "anchor": "start", "fontSize": 7, "fontWeight": "normal", "color": "#444", "offset": -4, "dx": 5},
"encoding": {
"x": {"field": "dye", "type": "nominal", "scale": {"type": "point", "padding": 0, "domain": ["FAM", "ROX", "VIC"], "range": [9.5, 102.5]}, "axis": null},
"y": {"field": "dye", "type": "nominal", "scale": {"type": "point", "padding": 0, "domain": ["FAM", "ROX", "VIC"], "range": [15.5, 15.5]}, "axis": null},
"color": {"field": "dye", "type": "nominal", "scale": {"domain": ["FAM", "ROX", "VIC"], "range": ["#2e3192", "#ed1c24", "#2eb04a"]}, "legend": null}
},
"layer": [
{"mark": {"type": "square", "size": 120, "opacity": 1}},
{"mark": {"type": "text", "align": "left", "dx": 9.5, "fontSize": 10}, "encoding": {"text": {"field": "dye"}, "color": {"value": "#222"}}}
]
}
]
},
{
"spacing": 40,
"vconcat": [
{
"spacing": 12,
"vconcat": [
{
"spacing": 0,
"title": {"text": "(c)", "anchor": "start", "fontSize": 14, "fontWeight": "bold", "color": "#111", "offset": 3, "dx": 36},
"hconcat": [
{"width": 17, "height": 1, "data": {"values": []}, "mark": "point"},
{
"width": 395, "height": 210,
"data": {"name": "c"},
"view": {"stroke": "#aaa"},
"title": {"text": "Multicomponent Plot", "fontSize": 17, "fontWeight": "bold", "color": "#111", "anchor": "middle", "frame": "group", "dx": -17, "offset": 4},
"mark": {"type": "line", "strokeWidth": 1.6, "interpolate": "monotone", "clip": true},
"encoding": {
"x": {"field": "cycle", "type": "quantitative", "scale": {"domain": [0, 51], "nice": false},
"axis": {"title": "Cycle", "values": [0,10,20,30,40,50], "labelFlush": false, "grid": true, "gridColor": "#d4d4d4", "gridDash": [2, 2], "tickSize": 3, "tickColor": "#777", "domainColor": "#777", "labelFontSize": 9, "labelColor": "#333", "labelPadding": 3, "titleFontSize": 12, "titleFontWeight": "normal", "titleColor": "#222", "titlePadding": 5}},
"y": {"field": "fluor", "type": "quantitative", "scale": {"domain": [0, 581000], "nice": false},
"axis": {"title": "Fluorescence", "values": [0,50000,100000,150000,200000,250000,300000,350000,400000,450000,500000,550000], "labelExpr": "format(datum.value, ',.0f')", "grid": true, "gridColor": "#d4d4d4", "gridDash": [2, 2], "tickSize": 3, "tickColor": "#777", "domainColor": "#777", "labelFontSize": 10, "labelColor": "#111", "labelPadding": 2, "titleFontSize": 12, "titleFontWeight": "normal", "titleColor": "#222", "titlePadding": 3}},
"color": {"field": "dye", "type": "nominal", "scale": {"domain": ["FAM", "ROX", "VIC"], "range": ["#2e3192", "#ed1c24", "#2eb04a"]}, "legend": null},
"detail": {"field": "well"}
}
}
]
},
{
"spacing": 0,
"hconcat": [
{"width": 6, "height": 1, "data": {"values": []}, "mark": "point"},
{
"width": 464, "height": 28,
"data": {"name": "c"},
"transform": [{"aggregate": [{"op": "count", "as": "n"}], "groupby": ["dye"]}],
"view": {"stroke": "#4a5a7a", "strokeWidth": 1.5},
"title": {"text": "Legend", "anchor": "start", "fontSize": 8, "fontWeight": "normal", "color": "#3a4a8a", "offset": -4, "dx": 9},
"encoding": {
"x": {"field": "dye", "type": "nominal", "scale": {"type": "point", "padding": 0, "domain": ["FAM", "ROX", "VIC"], "range": [10, 110]}, "axis": null},
"y": {"field": "dye", "type": "nominal", "scale": {"type": "point", "padding": 0, "domain": ["FAM", "ROX", "VIC"], "range": [16, 16]}, "axis": null},
"color": {"field": "dye", "type": "nominal", "scale": {"domain": ["FAM", "ROX", "VIC"], "range": ["#2e3192", "#ed1c24", "#2eb04a"]}, "legend": null}
},
"layer": [
{"mark": {"type": "square", "size": 170, "opacity": 1}},
{"mark": {"type": "text", "align": "left", "dx": 11, "fontSize": 12}, "encoding": {"text": {"field": "dye"}, "color": {"value": "#222"}}}
]
}
]
}
]
},
{
"spacing": 8,
"vconcat": [
{
"spacing": 0,
"title": {"text": "(d)", "anchor": "start", "fontSize": 14, "fontWeight": "bold", "color": "#111", "offset": 3, "dx": 49},
"hconcat": [
{"width": 29, "height": 1, "data": {"values": []}, "mark": "point"},
{
"width": 398, "height": 187,
"data": {"name": "d"},
"view": {"stroke": "#aaa"},
"title": {"text": "Multicomponent Plot", "fontSize": 17, "fontWeight": "bold", "color": "#111", "anchor": "middle", "frame": "group", "dx": -19, "offset": 2},
"mark": {"type": "line", "strokeWidth": 1.5, "interpolate": "monotone", "clip": true},
"encoding": {
"x": {"field": "cycle", "type": "quantitative", "scale": {"domain": [0, 43.57], "nice": false},
"axis": {"title": "Cycle", "values": [0,2,4,6,8,10,12,14,16,18,20,22,24,26,28,30,32,34,36,38,40,42], "labelOverlap": false, "labelFlush": false, "grid": true, "gridColor": "#d4d4d4", "gridDash": [2, 2], "tickSize": 3, "tickColor": "#777", "domainColor": "#777", "labelFontSize": 8, "labelColor": "#333", "labelPadding": 3, "titleFontSize": 12, "titleFontWeight": "normal", "titleColor": "#222", "titlePadding": 4}},
"y": {"field": "fluor", "type": "quantitative", "scale": {"domain": [0, 429000], "nice": false},
"axis": {"title": "Fluorescence", "values": [0,50000,100000,150000,200000,250000,300000,350000,400000], "labelExpr": "format(datum.value, ',.0f')", "grid": true, "gridColor": "#d4d4d4", "gridDash": [2, 2], "tickSize": 3, "tickColor": "#777", "domainColor": "#777", "labelFontSize": 9.5, "labelColor": "#111", "labelPadding": 2, "titleFontSize": 11, "titleFontWeight": "normal", "titleColor": "#222", "titlePadding": 4}},
"color": {"field": "dye", "type": "nominal", "scale": {"domain": ["FAM", "ROX", "VIC"], "range": ["#2e3192", "#ed1c24", "#2eb04a"]}, "legend": null},
"detail": {"field": "well"}
}
}
]
},
{
"spacing": 0,
"hconcat": [
{"width": 17, "height": 1, "data": {"values": []}, "mark": "point"},
{
"width": 466, "height": 23,
"data": {"name": "d"},
"transform": [{"aggregate": [{"op": "count", "as": "n"}], "groupby": ["dye"]}],
"view": {"stroke": "#4a5a7a", "strokeWidth": 1.5},
"title": {"text": "Legend", "anchor": "start", "fontSize": 8, "fontWeight": "normal", "color": "#3a4a8a", "offset": -4, "dx": 9},
"encoding": {
"x": {"field": "dye", "type": "nominal", "scale": {"type": "point", "padding": 0, "domain": ["FAM", "ROX", "VIC"], "range": [10, 110]}, "axis": null},
"y": {"field": "dye", "type": "nominal", "scale": {"type": "point", "padding": 0, "domain": ["FAM", "ROX", "VIC"], "range": [16, 16]}, "axis": null},
"color": {"field": "dye", "type": "nominal", "scale": {"domain": ["FAM", "ROX", "VIC"], "range": ["#2e3192", "#ed1c24", "#2eb04a"]}, "legend": null}
},
"layer": [
{"mark": {"type": "square", "size": 170, "opacity": 1}},
{"mark": {"type": "text", "align": "left", "dx": 11, "fontSize": 12}, "encoding": {"text": {"field": "dye"}, "color": {"value": "#222"}}}
]
}
]
}
]
}
]
}
]
}
]
}
],
"spacing": 39
}
